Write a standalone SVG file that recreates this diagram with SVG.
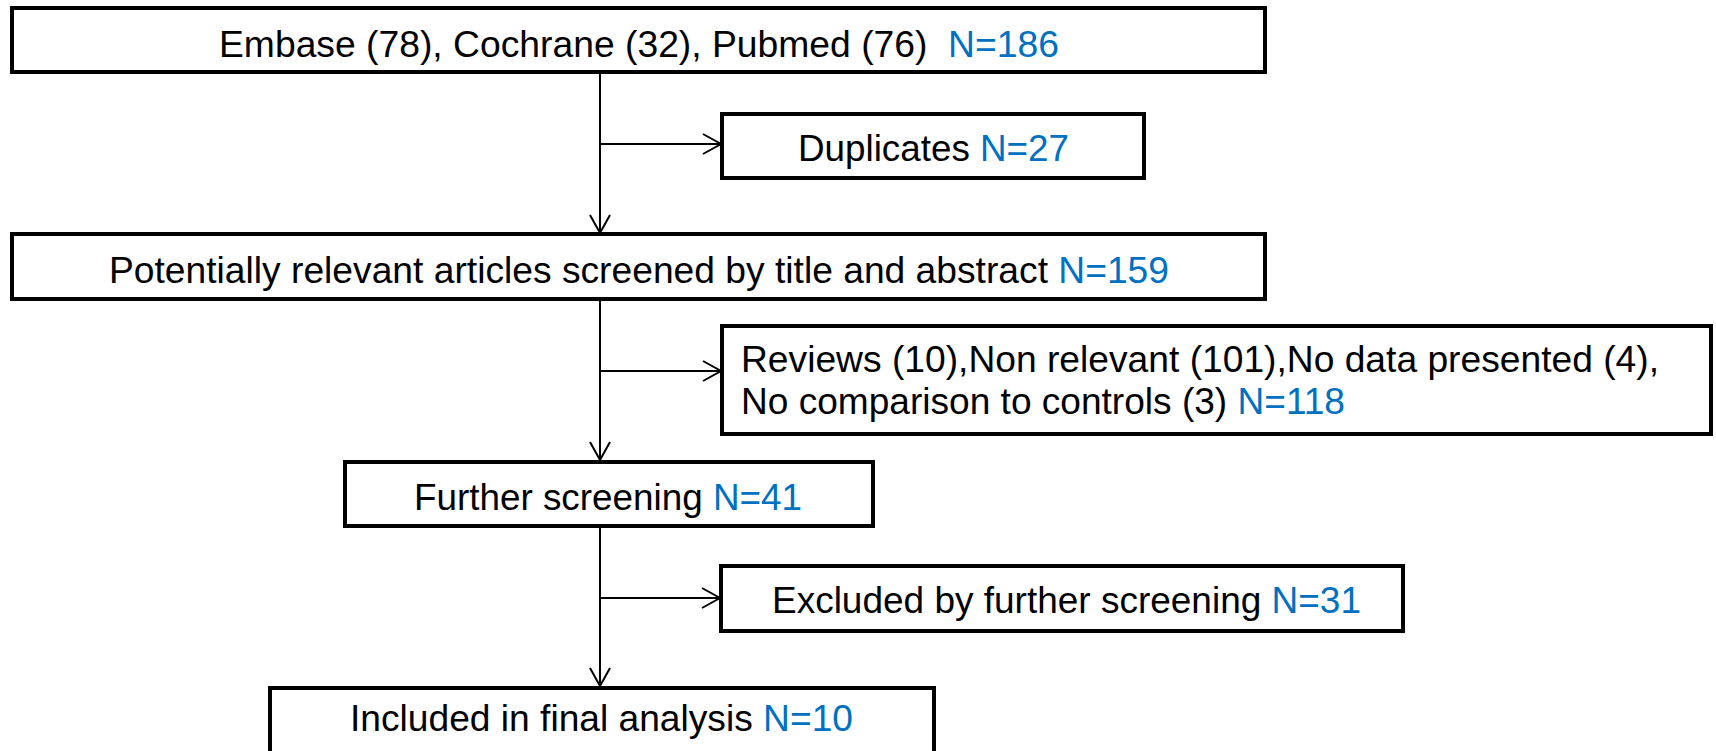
<svg xmlns="http://www.w3.org/2000/svg" width="1716" height="751" viewBox="0 0 1716 751">
  <style>
    .box { fill: #ffffff; stroke: #000000; stroke-width: 4; }
    .lbl { font-family: "Liberation Sans", Arial, sans-serif; font-size: 36px; fill: #000000; }
    .n { fill: #0070C0; }
    .link { fill: none; stroke: #000000; stroke-width: 2; }
  </style>
  <defs>
    <marker id="arrow" markerWidth="22" markerHeight="24" refX="19" refY="11" orient="auto" markerUnits="userSpaceOnUse">
      <path d="M1,1 L19,11 L1,21" fill="none" stroke="#000000" stroke-width="2"/>
    </marker>
  </defs>
  <rect width="1716" height="751" fill="#ffffff"/>

  <g id="connectors">
    <line class="link" x1="600" y1="72" x2="600" y2="233" marker-end="url(#arrow)"/>
    <line class="link" x1="600" y1="144" x2="721" y2="144" marker-end="url(#arrow)"/>
    <line class="link" x1="600" y1="299" x2="600" y2="460" marker-end="url(#arrow)"/>
    <line class="link" x1="600" y1="371" x2="721" y2="371" marker-end="url(#arrow)"/>
    <line class="link" x1="600" y1="526" x2="600" y2="686" marker-end="url(#arrow)"/>
    <line class="link" x1="600" y1="598" x2="720" y2="598" marker-end="url(#arrow)"/>
  </g>

  <g id="sources">
    <rect class="box" x="12" y="8" width="1253" height="64"/>
    <text class="lbl" x="219" y="57" textLength="840" lengthAdjust="spacingAndGlyphs" xml:space="preserve">Embase (78), Cochrane (32), Pubmed (76)  <tspan class="n">N=186</tspan></text>
  </g>

  <g id="duplicates">
    <rect class="box" x="722" y="114" width="422" height="64"/>
    <text class="lbl" x="798" y="161" textLength="271" lengthAdjust="spacingAndGlyphs">Duplicates <tspan class="n">N=27</tspan></text>
  </g>

  <g id="screened">
    <rect class="box" x="12" y="234" width="1253" height="65"/>
    <text class="lbl" x="109" y="283" textLength="1060" lengthAdjust="spacingAndGlyphs">Potentially relevant articles screened by title and abstract <tspan class="n">N=159</tspan></text>
  </g>

  <g id="excluded-abstract">
    <rect class="box" x="722" y="326" width="989" height="108"/>
    <text class="lbl" x="741" y="372" textLength="918" lengthAdjust="spacingAndGlyphs">Reviews (10),Non relevant (101),No data presented (4),</text>
    <text class="lbl" x="741" y="414" textLength="604" lengthAdjust="spacingAndGlyphs">No comparison to controls (3) <tspan class="n">N=118</tspan></text>
  </g>

  <g id="further">
    <rect class="box" x="345" y="462" width="528" height="64"/>
    <text class="lbl" x="414" y="510" textLength="388" lengthAdjust="spacingAndGlyphs">Further screening <tspan class="n">N=41</tspan></text>
  </g>

  <g id="excluded-further">
    <rect class="box" x="721" y="566" width="682" height="65"/>
    <text class="lbl" x="772" y="613" textLength="589" lengthAdjust="spacingAndGlyphs">Excluded by further screening <tspan class="n">N=31</tspan></text>
  </g>

  <g id="included">
    <rect class="box" x="270" y="688" width="664" height="80"/>
    <text class="lbl" x="350" y="731" textLength="503" lengthAdjust="spacingAndGlyphs">Included in final analysis <tspan class="n">N=10</tspan></text>
  </g>
</svg>
